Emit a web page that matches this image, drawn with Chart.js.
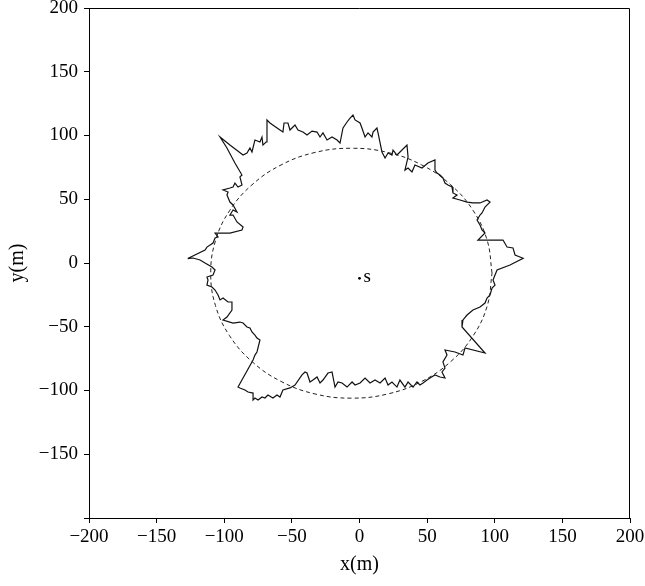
<!DOCTYPE html>
<html>
<head>
<meta charset="utf-8">
<script src="https://cdn.jsdelivr.net/npm/chart.js@4.4.1/dist/chart.umd.min.js"></script>
<style>
  html, body { margin: 0; padding: 0; background: #fff; }
  #wrap { width: 645px; height: 586px; }
</style>
</head>
<body>
<div id="wrap"><canvas id="myChart" width="645" height="586"></canvas></div>
<script>
const boundaryX = [
  -127, -114.2, -112.8, -108.3, -106.8, -104.6, -106.8, -95.8, -86.9, -86.1,
  -90.6, -93.5, -95.8, -93.5, -90.6, -93.5, -95.8, -98.0, -97.2, -100.9,
  -95.8, -93.5, -92.1, -89.8, -86.9, -88.4, -86.9, -92.1, -98.0, -103.1,
  -95.8, -86.1, -83.2, -81.0, -79.5, -77.3, -73.6, -72.1, -71.4, -69.1,
  -68.4, -66.2, -58.8, -56.6, -55.8, -52.9, -51.4, -47.7, -45.5, -41.8,
  -38.8, -35.1, -31.4, -29.2, -27.0, -24.0, -20.3, -16.6, -14.4, -12.2,
  -9.2, -7.0, -4.8, -3.3, 0.4, 1.8, 4.1, 6.3, 9.2, 10.0,
  12.9, 13.7, 16.6, 18.9, 21.1, 24.0, 24.8, 27.7, 35.1, 35.9,
  33.6, 35.9, 38.8, 41.0, 46.2, 50.6, 55.8, 55.8, 57.3, 59.5,
  61.7, 63.2, 65.4, 68.4, 69.1, 72.1, 69.1, 74.3, 79.5, 83.9,
  89.1, 94.3, 96.5, 92.8, 90.6, 89.1, 86.9, 89.1, 90.6, 92.8,
  87.6, 106.1, 109.1, 113.5, 115.0, 121.0, 111.3, 101.7, 100.2, 98.7,
  100.2, 98.0, 96.5, 94.3, 92.8, 89.1, 83.9, 79.5, 76.5, 75.8,
  92.8, 78.0, 76.5, 70.6, 63.2, 64.7, 61.7, 63.2, 61.0, 63.2,
  59.5, 55.8, 52.1, 49.9, 47.0, 44.7, 42.5, 39.6, 35.9, 33.6,
  29.9, 27.7, 24.0, 21.1, 18.9, 15.2, 11.5, 7.8, 4.1, 0.4,
  -3.3, -5.5, -9.2, -12.9, -15.9, -18.1, -20.3, -23.3, -27.0, -29.2,
  -31.4, -34.4, -36.6, -38.8, -40.3, -42.5, -47.7, -51.4, -56.6, -58.8,
  -61.0, -64.0, -67.7, -69.9, -72.1, -75.0, -77.3, -78.7, -78.7, -82.4,
  -84.7, -88.4, -89.8, -78.7, -77.3, -75.8, -73.6, -75.8, -77.3, -79.5,
  -81.0, -83.2, -86.1, -88.4, -93.5, -100.9, -98.0, -94.3, -94.3, -97.2,
  -100.9, -103.1, -104.6, -106.8, -109.1, -112.8, -112.0, -112.8, -108.3, -106.8,
  -109.1, -114.2, -117.9, -123.1, -127
];
const boundaryY = [
  3.5, 10.2, 12.5, 15.7, 19.6, 20.4, 23.5, 23.5, 25.9, 28.2,
  32.2, 37.6, 37.6, 41.6, 40.0, 45.5, 47.8, 53.3, 55.7, 57.3,
  58.8, 59.6, 62.7, 59.6, 61.2, 67.5, 69.0, 78.4, 90.2, 98.8,
  92.5, 84.7, 86.3, 90.2, 87.1, 96.5, 94.9, 98.8, 92.5, 94.9,
  112.2, 109.8, 104.3, 102.7, 109.8, 109.8, 104.3, 108.2, 104.3, 102.7,
  100.4, 103.5, 102.7, 98.8, 102.0, 96.5, 98.8, 96.5, 94.1, 105.9,
  110.6, 113.7, 116.1, 112.2, 109.8, 105.9, 98.8, 102.0, 98.8, 102.7,
  105.9, 102.0, 87.1, 82.4, 86.3, 84.7, 88.6, 84.7, 92.5, 83.1,
  72.9, 74.5, 71.4, 76.9, 74.5, 78.4, 80.8, 72.9, 70.6, 69.0,
  66.7, 62.7, 61.2, 59.6, 54.9, 53.3, 51.0, 49.4, 47.8, 47.1,
  47.1, 49.4, 47.8, 43.9, 39.2, 37.6, 33.7, 29.8, 25.9, 23.5,
  18.0, 18.0, 12.5, 11.8, 6.3, 3.7, -1.6, -5.5, -9.4, -13.3,
  -17.3, -19.6, -25.1, -27.5, -31.4, -34.5, -36.9, -40.8, -44.7, -50.2,
  -70.6, -66.7, -72.2, -69.8, -68.2, -72.2, -77.6, -82.4, -85.5, -90.2,
  -89.4, -87.8, -90.2, -91.8, -94.1, -95.7, -93.3, -97.3, -93.3, -97.3,
  -91.8, -97.3, -93.3, -95.7, -90.2, -94.1, -91.8, -94.1, -90.2, -94.1,
  -95.7, -93.3, -97.3, -94.1, -93.3, -97.3, -85.5, -86.3, -91.8, -94.1,
  -89.4, -91.8, -93.3, -86.3, -85.5, -87.8, -95.7, -98.0, -99.6, -105.1,
  -103.5, -105.9, -103.5, -105.9, -105.1, -107.5, -105.9, -107.5, -102.0, -101.2,
  -99.6, -98.0, -97.3, -76.1, -72.2, -69.8, -60.4, -58.8, -56.5, -54.1,
  -51.0, -50.2, -47.1, -46.3, -47.1, -44.7, -42.4, -36.9, -30.6, -30.6,
  -27.5, -29.0, -25.1, -21.2, -18.8, -17.3, -13.3, -11.0, -9.4, -5.5,
  -3.1, 0, 2.4, 3.9, 3.5
];

// dashed reference circle, points read around it
const circleX = [98, 94.5, 84.1, 67.5, 46, 20.9, -6, -32.9, -58, -79.5, -96.1, -106.5,
  -110, -106.5, -96.1, -79.5, -58, -32.9, -6, 20.9, 46, 67.5, 84.1, 94.5, 98];
const circleY = [-8, 17.4, 41, 61.3, 76.9, 86.7, 90, 86.7, 76.9, 61.3, 41, 17.4,
  -8, -33.4, -57, -77.3, -92.9, -102.7, -106, -102.7, -92.9, -77.3, -57, -33.4, -8];

// source point
const sourceX = [0];
const sourceY = [-12];
const sourceLabel = "s";

const axisMin = -200;
const axisMax = 200;
const tickStep = 50;

const toPoints = (xs, ys) => xs.map((x, i) => ({ x: x, y: ys[i] }));

function fmt(v) {
  return v < 0 ? "\u2212" + Math.abs(v) : String(v);
}

const serif = "'Liberation Serif', 'DejaVu Serif', serif";

// top/right frame lines + the "s" label
const framePlugin = {
  id: "frame",
  afterDraw(chart) {
    const ctx = chart.ctx;
    const a = chart.chartArea;
    ctx.save();
    ctx.strokeStyle = "#000";
    ctx.lineWidth = 1;
    ctx.beginPath();
    const t = Math.round(a.top) + 0.5;
    const r = Math.round(a.right) - 0.5;
    ctx.moveTo(Math.round(a.left), t);
    ctx.lineTo(r, t);
    ctx.lineTo(r, Math.round(a.bottom));
    ctx.stroke();

    const px = chart.scales.x.getPixelForValue(sourceX[0]);
    const py = chart.scales.y.getPixelForValue(sourceY[0]);
    ctx.fillStyle = "#000";
    ctx.font = "19px " + serif;
    ctx.textAlign = "left";
    ctx.textBaseline = "alphabetic";
    ctx.fillText(sourceLabel, px + 4, py + 4);
    ctx.restore();
  }
};

const ctx = document.getElementById("myChart").getContext("2d");

const config = {
  type: "scatter",
  data: {
    datasets: [
      {
        label: "circle",
        data: toPoints(circleX, circleY),
        showLine: true,
        borderColor: "#222",
        borderWidth: 1,
        borderDash: [4, 3],
        tension: 0.4,
        pointRadius: 0,
        fill: false,
      },
      {
        label: "boundary",
        data: toPoints(boundaryX, boundaryY),
        showLine: true,
        borderColor: "#111",
        borderWidth: 1.2,
        tension: 0,
        pointRadius: 0,
        fill: false,
      },
      {
        label: "source",
        data: toPoints(sourceX, sourceY),
        pointRadius: 1.4,
        pointBackgroundColor: "#000",
        pointBorderWidth: 0,
        showLine: false,
      },
    ],
  },
  options: {
    responsive: false,
    animation: false,
    layout: { padding: { left: 0, right: 15, top: 8, bottom: 0 } },
    plugins: {
      legend: { display: false },
      tooltip: { enabled: false },
    },
    scales: {
      x: {
        type: "linear",
        min: axisMin,
        max: axisMax,
        ticks: {
          stepSize: tickStep,
          color: "#000",
          font: { family: serif, size: 19 },
          padding: 3,
          maxRotation: 0,
          callback: (v) => fmt(v),
        },
        grid: { drawOnChartArea: false, drawTicks: true, tickLength: 5, color: "#000" },
        border: { color: "#000", width: 1 },
        title: {
          display: true,
          text: "x(m)",
          color: "#000",
          font: { family: serif, size: 20 },
          padding: { top: 0, bottom: 9 },
        },
        afterFit(scale) {
          scale.height = 68;
          scale.paddingLeft = 0;
          scale.paddingRight = 0;
        },
      },
      y: {
        type: "linear",
        min: axisMin,
        max: axisMax,
        ticks: {
          stepSize: tickStep,
          color: "#000",
          font: { family: serif, size: 19 },
          padding: 6,
          callback: (v) => (v === axisMin ? "" : fmt(v)),
        },
        grid: { drawOnChartArea: false, drawTicks: true, tickLength: 5, color: "#000" },
        border: { color: "#000", width: 1 },
        title: {
          display: true,
          text: "y(m)",
          color: "#000",
          font: { family: serif, size: 20 },
          padding: { top: 6, bottom: 0 },
        },
        afterFit(scale) {
          scale.width = 89;
          scale.paddingTop = 0;
          scale.paddingBottom = 0;
        },
      },
    },
  },
  plugins: [framePlugin],
};

const myChart = new Chart(ctx, config);
</script>
</body>
</html>
